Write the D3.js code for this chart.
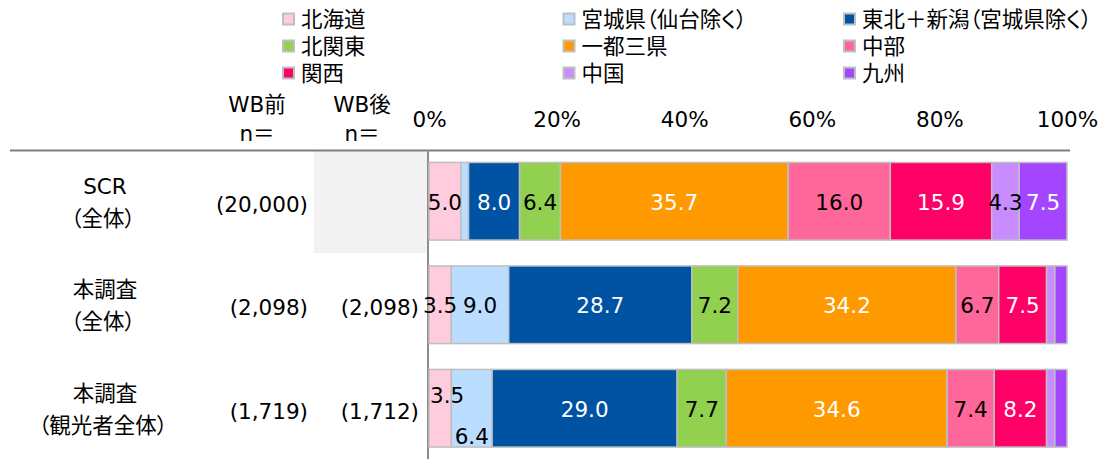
<!DOCTYPE html>
<html>
<head>
<meta charset="utf-8">
<script src="https://cdn.jsdelivr.net/npm/d3@7"></script>
<style>
  body { margin: 0; background: #fff; }
  svg { font-family: "DejaVu Sans", "Noto Sans CJK JP", sans-serif; font-feature-settings: "palt"; }
</style>
</head>
<body>
<svg></svg>
<script>
// rows (top to bottom)
var rowLabels = [["SCR", "（全体）"], ["本調査", "（全体）"], ["本調査", "（観光者全体）"]];
var nBefore = ["(20,000)", "(2,098)", "(1,719)"];
var nAfter = [null, "(2,098)", "(1,712)"];

// series, in stacking order
var regions = ["北海道", "宮城県（仙台除く）", "東北＋新潟（宮城県除く）", "北関東", "一都三県", "中部", "関西", "中国", "九州"];
var hokkaido = [5.0, 3.5, 3.5];
var miyagi = [1.2, 9.0, 6.4];
var tohoku = [8.0, 28.7, 29.0];
var kitakanto = [6.4, 7.2, 7.7];
var itto = [35.7, 34.2, 34.6];
var chubu = [16.0, 6.7, 7.4];
var kansai = [15.9, 7.5, 8.2];
var chugoku = [4.3, 1.3, 1.3];
var kyushu = [7.5, 1.9, 1.9];

var tickValues = [0, 20, 40, 60, 80, 100];

var colors = ["#ffccdd", "#bbddff", "#0052a3", "#92d050", "#ff9900", "#ff6699", "#ff0066", "#c88cff", "#a445ff"];
var labelColors = ["#000", "#000", "#fff", "#000", "#fff", "#000", "#fff", "#000", "#fff"];

var seriesValues = [hokkaido, miyagi, tohoku, kitakanto, itto, chubu, kansai, chugoku, kyushu];

var screen = { width: 1104, height: 459 };

var svg = d3.select("svg")
            .attr("width", screen.width)
            .attr("height", screen.height);

var rows = d3.range(rowLabels.length);

var xScale = d3.scaleLinear()
               .domain([0, 100])
               .range([429, 1067]);

var yScale = d3.scaleBand()
               .domain(rows)
               .range([149.5, 460])
               .paddingInner(0.25)
               .paddingOuter(0.125);

var step = yScale.step();
var font = 21.5;

// grey cell where WB-after has no sample
rows.forEach(function(r)
{
  if (nAfter[r] === null)
  {
    svg.append("rect")
       .attr("x", 314)
       .attr("y", yScale(r) - step * 0.125)
       .attr("width", 428 - 314)
       .attr("height", step)
       .attr("fill", "#f2f2f2");
  }
});

// header line and axis line
svg.append("line")
   .attr("x1", 10).attr("x2", 1070)
   .attr("y1", 150.5).attr("y2", 150.5)
   .attr("stroke", "#7f7f7f").attr("stroke-width", 2);

svg.append("line")
   .attr("x1", 428).attr("x2", 428)
   .attr("y1", 150).attr("y2", screen.height)
   .attr("stroke", "#8c8c8c").attr("stroke-width", 2);

// percent axis on top
var axis = svg.append("g")
              .attr("transform", "translate(0,127)")
              .call(d3.axisTop(xScale)
                      .tickValues(tickValues)
                      .tickSize(0)
                      .tickPadding(0)
                      .tickFormat(function(d) { return d + "%"; }));
axis.select(".domain").remove();
axis.selectAll("text")
    .attr("font-size", font)
    .attr("font-family", "DejaVu Sans")
    .attr("fill", "#000");

// column headers
[["WB前", 257], ["WB後", 362]].forEach(function(h)
{
  svg.append("text").attr("x", h[1]).attr("y", 112)
     .attr("text-anchor", "middle").attr("font-size", font).text(h[0]);
  svg.append("text").attr("x", h[1]).attr("y", 141)
     .attr("text-anchor", "middle").attr("font-size", font).text("n＝");
});

// row labels and n
rows.forEach(function(r)
{
  var cy = yScale(r) + yScale.bandwidth() / 2;
  svg.append("text").attr("x", 105).attr("y", cy - 15)
     .attr("text-anchor", "middle").attr("dominant-baseline", "central")
     .attr("font-size", font).text(rowLabels[r][0]);
  svg.append("text").attr("x", 103).attr("y", cy + 17)
     .attr("text-anchor", "middle").attr("dominant-baseline", "central")
     .attr("font-size", font).text(rowLabels[r][1]);
  svg.append("text").attr("x", 308).attr("y", cy + 3)
     .attr("text-anchor", "end").attr("dominant-baseline", "central")
     .attr("font-size", font).text(nBefore[r]);
  if (nAfter[r] !== null)
  {
    svg.append("text").attr("x", 419).attr("y", cy + 3)
       .attr("text-anchor", "end").attr("dominant-baseline", "central")
       .attr("font-size", font).text(nAfter[r]);
  }
});

// stacked bars
var table = rows.map(function(r)
{
  var o = { row: r };
  regions.forEach(function(name, i) { o[name] = seriesValues[i][r]; });
  return o;
});

var stack = d3.stack().keys(regions)(table);

// labels moved apart where they collide (row, series) -> [dx, dy]
var nudge = { "2-0": [7, -14], "2-1": [0, 27] };

var layers = svg.append("g").selectAll("g")
                .data(stack)
                .enter()
                .append("g")
                .attr("fill", function(d, i) { return colors[i]; });

layers.selectAll("rect")
      .data(function(d) { return d; })
      .enter()
      .append("rect")
      .attr("x", function(d) { return xScale(d[0]); })
      .attr("y", function(d) { return yScale(d.data.row); })
      .attr("width", function(d) { return xScale(d[1]) - xScale(d[0]); })
      .attr("height", yScale.bandwidth())
      .attr("stroke", "#bfbfbf")
      .attr("stroke-width", 1.5);

stack.forEach(function(layer, i)
{
  layer.forEach(function(d)
  {
    var r = d.data.row;
    if (seriesValues[i][r] < 3) return;
    var n = nudge[r + "-" + i] || [0, 0];
    svg.append("text")
       .attr("x", (xScale(d[0]) + xScale(d[1])) / 2 + n[0])
       .attr("y", yScale(r) + yScale.bandwidth() / 2 + 1 + n[1])
       .attr("text-anchor", "middle")
       .attr("dominant-baseline", "central")
       .attr("font-size", font)
       .attr("fill", labelColors[i])
       .text(seriesValues[i][r].toFixed(1));
  });
});

// legend, 3 columns
var legend = svg.append("g").selectAll("g")
                .data(regions)
                .enter()
                .append("g")
                .attr("transform", function(d, i)
                {
                  return "translate(" + (283 + (i % 3) * 280.5) + "," + (19 + Math.floor(i / 3) * 27) + ")";
                });

legend.append("rect")
      .attr("x", 0).attr("y", -5.5)
      .attr("width", 11).attr("height", 11)
      .attr("fill", function(d, i) { return colors[i]; })
      .attr("stroke", "#bfbfbf")
      .attr("stroke-width", 2);

legend.append("text")
      .attr("x", 18).attr("y", 0)
      .attr("dominant-baseline", "central")
      .attr("font-size", font)
      .text(function(d) { return d; });
</script>
</body>
</html>
